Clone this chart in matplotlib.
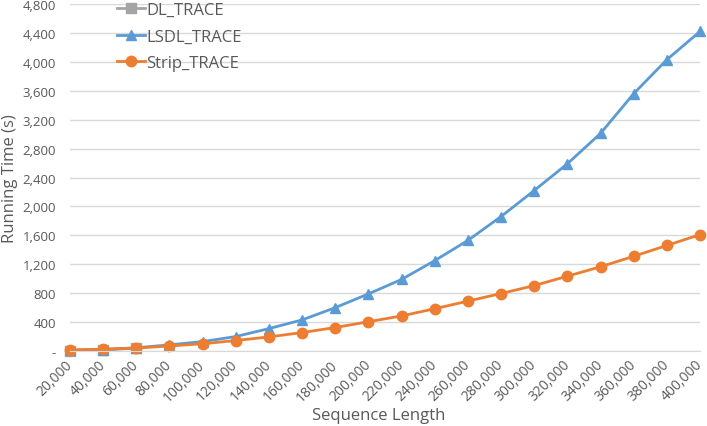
import numpy as np
import matplotlib.pyplot as plt
from matplotlib.ticker import FuncFormatter

plt.rcParams['font.family'] = ['Open Sans', 'DejaVu Sans']

# data
seq_len = [20000, 40000, 60000, 80000, 100000, 120000, 140000, 160000, 180000, 200000,
           220000, 240000, 260000, 280000, 300000, 320000, 340000, 360000, 380000, 400000]
dl_len = [20000, 40000, 60000]
dl_trace = [5, 15, 40]
lsdl_trace = [10, 20, 45, 85, 130, 200, 310, 430, 600, 790,
              990, 1250, 1530, 1860, 2220, 2590, 3010, 3560, 4030, 4420]
strip_trace = [15, 25, 40, 70, 100, 145, 195, 255, 325, 405,
               485, 585, 690, 795, 905, 1035, 1165, 1310, 1460, 1610]

txt = '#595959'

fig = plt.figure(figsize=(7.07, 4.27), dpi=100)
ax = fig.add_axes([70 / 707, 75 / 427, 630 / 707, 347 / 427])

ax.plot(dl_len, dl_trace, color='#A5A5A5', marker='s', markersize=7, linewidth=2, label='DL_TRACE', clip_on=False)
ax.plot(seq_len, lsdl_trace, color='#5B9BD5', marker='^', markersize=7.5, linewidth=2, label='LSDL_TRACE', clip_on=False)
ax.plot(seq_len, strip_trace, color='#ED7D31', marker='o', markersize=7.5, linewidth=2, label='Strip_TRACE', clip_on=False)

ax.set_xlim(20000, 400000)
ax.set_ylim(0, 4800)
ax.set_xticks(seq_len)
ax.set_yticks(np.arange(0, 4801, 400))
ax.xaxis.set_major_formatter(FuncFormatter(lambda v, p: f'{int(v):,}'))
ax.yaxis.set_major_formatter(FuncFormatter(lambda v, p: '-' if v == 0 else f'{int(v):,}'))
plt.setp(ax.get_xticklabels(), rotation=45, ha='right', va='center', rotation_mode='anchor')
ax.tick_params(axis='both', length=0, colors=txt)
ax.tick_params(axis='x', labelsize=10, pad=8)
ax.tick_params(axis='y', labelsize=9.5, pad=10)

ax.grid(axis='y', color='#D9D9D9', linewidth=1)
ax.set_axisbelow(True)
for s in ['top', 'right', 'left']:
    ax.spines[s].set_visible(False)
ax.spines['bottom'].set_color('#D9D9D9')

ax.set_xlabel('Sequence Length', fontsize=12, color=txt)
ax.set_ylabel('Running Time (s)', fontsize=12, color=txt)
ax.xaxis.set_label_coords(0.49, -0.16)
ax.yaxis.set_label_coords(-0.083, 0.5)

ax.legend(loc='upper left', bbox_to_anchor=(0.05, 1.05), frameon=False, fontsize=12,
          labelcolor=txt, handlelength=1.7, handletextpad=0.1, labelspacing=0.65)

fig.savefig('out.png', dpi=100)
